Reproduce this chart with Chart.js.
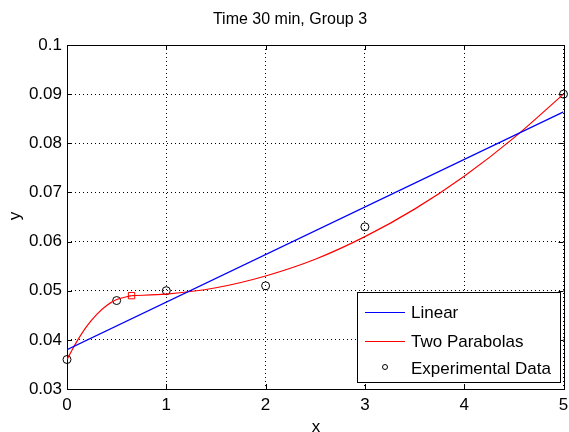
<!DOCTYPE html>
<html>
<head>
<meta charset="utf-8">
<script src="https://cdn.jsdelivr.net/npm/chart.js@4/dist/chart.umd.min.js"></script>
<style>
  html, body { margin: 0; padding: 0; background: #fff; }
  canvas { display: block; }
</style>
</head>
<body>
<canvas id="fitChart" width="569" height="432"></canvas>
<script>
// data
const chartTitle = "Time 30 min, Group 3";
const xLabel = "x";
const yLabel = "y";

const expX = [0, 0.5, 1, 2, 3, 5];
const expY = [0.036, 0.048, 0.050, 0.051, 0.063, 0.090];

const linearX = [0, 5];
const linearY = [0.038, 0.0864];

// first parabola up to the break point, second one after it
const para1X = [0, 0.05, 0.1, 0.2, 0.3, 0.4, 0.5, 0.65];
const para1Y = [0.036, 0.0379, 0.0397, 0.0428, 0.0452, 0.0470, 0.0482, 0.049];
const para2X = [0.65, 1, 1.5, 2, 2.5, 3, 3.5, 4, 4.5, 5];
const para2Y = [0.049, 0.0493, 0.0506, 0.0530, 0.0564, 0.0610, 0.0666, 0.0733, 0.0811, 0.090];

const breakX = [0.65];
const breakY = [0.049];

const legendLabels = ["Linear", "Two Parabolas", "Experimental Data"];

const toPts = (xs, ys) => xs.map((x, i) => ({ x: x, y: ys[i] }));
const FONT = "'Liberation Sans', Arial, sans-serif";

// box, inward ticks, title, axis labels and legend in matlab style
const matlabLook = {
  id: "matlabLook",
  beforeDatasetsDraw(chart) {
    const { ctx, chartArea: a, scales } = chart;
    ctx.save();
    ctx.strokeStyle = "#000";
    ctx.lineWidth = 1;
    ctx.strokeRect(Math.round(a.left) + 0.5, Math.round(a.top) + 0.5,
      Math.round(a.right - a.left), Math.round(a.bottom - a.top));
    const t = 5;
    ctx.beginPath();
    scales.x.ticks.forEach(tk => {
      const px = Math.round(scales.x.getPixelForValue(tk.value)) + 0.5;
      ctx.moveTo(px, a.bottom); ctx.lineTo(px, a.bottom - t);
      ctx.moveTo(px, a.top); ctx.lineTo(px, a.top + t);
    });
    scales.y.ticks.forEach(tk => {
      const py = Math.round(scales.y.getPixelForValue(tk.value)) + 0.5;
      ctx.moveTo(a.left, py); ctx.lineTo(a.left + t, py);
      ctx.moveTo(a.right, py); ctx.lineTo(a.right - t, py);
    });
    ctx.stroke();
    ctx.restore();
  },
  afterDraw(chart) {
    const { ctx } = chart;
    ctx.save();
    ctx.fillStyle = "#000";
    ctx.textAlign = "center";
    ctx.textBaseline = "middle";
    ctx.font = "16px " + FONT;
    ctx.fillText(chartTitle, 290, 20);
    ctx.font = "17px " + FONT;
    ctx.fillText(xLabel, 316, 427);
    ctx.save();
    ctx.translate(15, 216);
    ctx.rotate(-Math.PI / 2);
    ctx.fillText(yLabel, 0, 0);
    ctx.restore();

    // legend
    const lx = 357, ly = 292, lw = 203, lh = 90;
    ctx.fillStyle = "#fff";
    ctx.fillRect(lx, ly, lw, lh);
    ctx.strokeStyle = "#000";
    ctx.lineWidth = 1;
    ctx.strokeRect(lx + 0.5, ly + 0.5, lw, lh);
    const rows = [312, 341, 368];
    const colors = ["#0000ff", "#ff0000"];
    ctx.textAlign = "left";
    ctx.font = "17px " + FONT;
    legendLabels.forEach((lab, i) => {
      if (i < 2) {
        ctx.strokeStyle = colors[i];
        ctx.lineWidth = 1.2;
        ctx.beginPath();
        ctx.moveTo(365, rows[i] + 0.5);
        ctx.lineTo(405, rows[i] + 0.5);
        ctx.stroke();
      } else {
        ctx.strokeStyle = "#000";
        ctx.lineWidth = 1;
        ctx.beginPath();
        ctx.arc(385, rows[i] - 1, 2.5, 0, Math.PI * 2);
        ctx.stroke();
      }
      ctx.fillStyle = "#000";
      ctx.fillText(lab, 411, rows[i] + 1);
    });
    ctx.restore();
  }
};

const ctx = document.getElementById("fitChart").getContext("2d");

new Chart(ctx, {
  type: "scatter",
  data: {
    datasets: [
      {
        label: legendLabels[0],
        data: toPts(linearX, linearY),
        showLine: true,
        borderColor: "#0000ff",
        borderWidth: 1.2,
        pointRadius: 0
      },
      {
        label: legendLabels[1],
        data: toPts(para1X, para1Y),
        showLine: true,
        borderColor: "#ff0000",
        borderWidth: 1.2,
        pointRadius: 0,
        cubicInterpolationMode: "monotone"
      },
      {
        label: legendLabels[1] + " 2",
        data: toPts(para2X, para2Y),
        showLine: true,
        borderColor: "#ff0000",
        borderWidth: 1.2,
        pointRadius: 0,
        cubicInterpolationMode: "monotone"
      },
      {
        label: "break",
        data: toPts(breakX, breakY),
        pointStyle: "rect",
        pointRadius: 4.5,
        borderColor: "#ff0000",
        backgroundColor: "transparent",
        borderWidth: 1
      },
      {
        label: legendLabels[2],
        data: toPts(expX, expY),
        pointStyle: "circle",
        pointRadius: 4,
        borderColor: "#000",
        backgroundColor: "transparent",
        borderWidth: 1,
        clip: false
      }
    ]
  },
  options: {
    responsive: false,
    animation: false,
    devicePixelRatio: 1,
    layout: { padding: { top: 45, right: 4, left: 0, bottom: 0 } },
    plugins: {
      legend: { display: false },
      title: { display: false },
      tooltip: { enabled: false }
    },
    scales: {
      x: {
        type: "linear",
        min: 0,
        max: 5,
        afterFit(scale) {
          scale.height = 43;
          scale.paddingLeft = 0;
          scale.paddingRight = 0;
        },
        ticks: { stepSize: 1, color: "#000", font: { family: FONT, size: 17 }, padding: 6 },
        grid: { color: "#000", lineWidth: 1, drawTicks: false },
        border: { display: false, dash: [1, 3] }
      },
      y: {
        min: 0.03,
        max: 0.1,
        afterFit(scale) {
          scale.width = 67;
          scale.paddingTop = 0;
          scale.paddingBottom = 0;
        },
        ticks: {
          stepSize: 0.01,
          color: "#000",
          font: { family: FONT, size: 17 },
          padding: 5,
          callback: v => Number(v.toFixed(2)).toString()
        },
        grid: { color: "#000", lineWidth: 1, drawTicks: false },
        border: { display: false, dash: [1, 3] }
      }
    }
  },
  plugins: [matlabLook]
});
</script>
</body>
</html>
